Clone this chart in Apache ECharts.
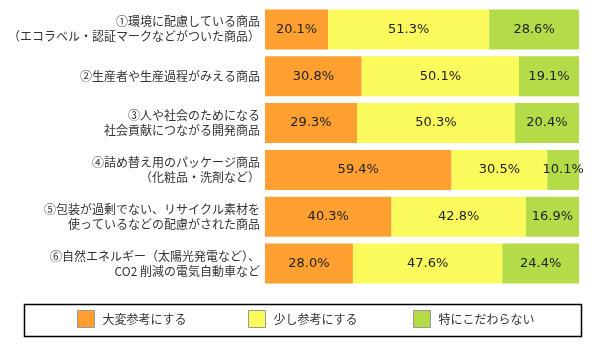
<!DOCTYPE html>
<html><head><meta charset="utf-8">
<script src="https://cdn.jsdelivr.net/npm/echarts@6/dist/echarts.min.js"></script>
<style>html,body{margin:0;padding:0;background:#fff}#c{width:599px;height:353px}</style>
</head><body><div id="c"></div>
<script>
var categories = [
  '①環境に配慮している商品\n（エコラベル・認証マークなどがついた商品）',
  '②生産者や生産過程がみえる商品',
  '③人や社会のためになる\n社会貢献につながる開発商品',
  '④詰め替え用のパッケージ商品\n（化粧品・洗剤など）',
  '⑤包装が過剰でない、リサイクル素材を\n使っているなどの配慮がされた商品',
  '⑥自然エネルギー（太陽光発電など）、\nCO2 削減の電気自動車など'
];
var seriesNames = ['大変参考にする', '少し参考にする', '特にこだわらない'];
var valuesVery = [20.1, 30.8, 29.3, 59.4, 40.3, 28.0];
var valuesLittle = [51.3, 50.1, 50.3, 30.5, 42.8, 47.6];
var valuesNone = [28.6, 19.1, 20.4, 10.1, 16.9, 24.4];
var colors = ['#FFA030', '#FAFA5C', '#B4DC48'];
var FONT = '"Noto Sans CJK JP", sans-serif';

var chart = echarts.init(document.getElementById('c'));
function mk(i, data) {
  return {
    name: seriesNames[i], type: 'bar', stack: 'a', data: data, barWidth: 40,
    itemStyle: { color: colors[i] },
    label: { show: true, position: 'inside', formatter: function (p) { return p.value.toFixed(1) + '%'; },
      color: '#222', fontFamily: '"DejaVu Sans", sans-serif', fontSize: 13 },
    labelLayout: { hideOverlap: false },
    emphasis: { disabled: true }, animation: false
  };
}
function lg(i, left) {
  return { data: [seriesNames[i]], left: left, top: 310, itemWidth: 17, itemHeight: 17, itemGap: 0,
    icon: 'rect', selectedMode: false,
    itemStyle: { borderColor: '#999', borderWidth: 1 },
    textStyle: { fontFamily: FONT, fontSize: 12, color: '#333', padding: [0, 0, 0, 3] }, padding: 0 };
}
chart.setOption({
  animation: false,
  color: colors,
  grid: { left: 265, right: 20, top: 6, height: 281 },
  xAxis: { type: 'value', min: 0, max: 100, show: false },
  yAxis: { type: 'category', data: categories, inverse: true,
    axisLine: { show: false }, axisTick: { show: false },
    axisLabel: { margin: 5, fontFamily: FONT, fontSize: 12, color: '#333', lineHeight: 15, align: 'right' } },
  legend: [lg(0, 77), lg(1, 248), lg(2, 413)],
  graphic: [{ type: 'rect', left: 22, top: 302, shape: { width: 557, height: 32 },
    style: { fill: 'none', stroke: '#000', lineWidth: 1.5 }, silent: true }],
  series: [mk(0, valuesVery), mk(1, valuesLittle), mk(2, valuesNone)]
});
</script></body></html>
